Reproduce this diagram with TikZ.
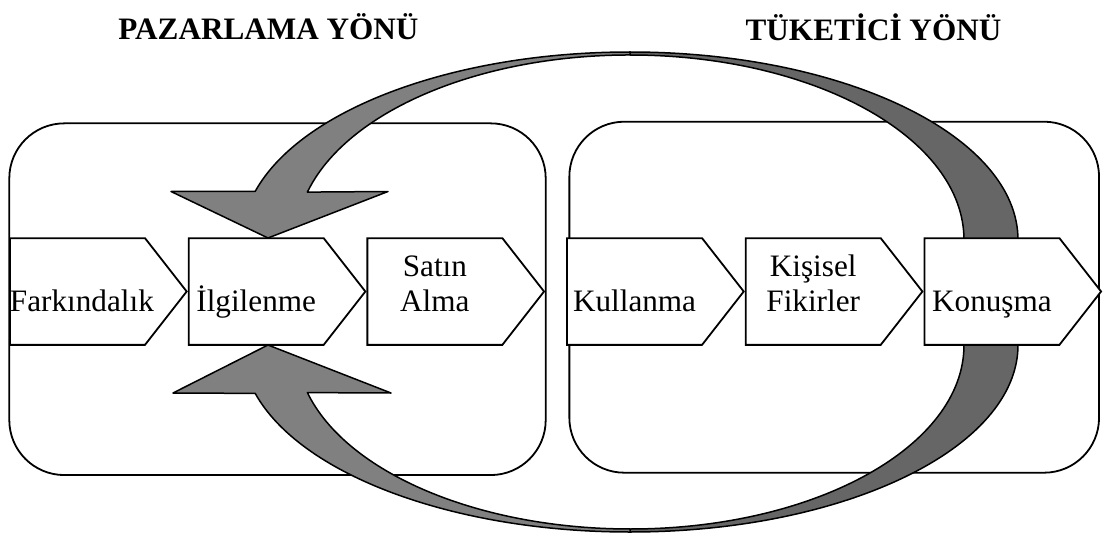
\documentclass[tikz,border=0pt]{standalone}
\usepackage{fontspec}
\setmainfont{Liberation Serif}
\usetikzlibrary{positioning}
\usetikzlibrary{shapes.symbols}

\begin{document}
\begin{tikzpicture}[x=0.5pt,y=-0.5pt]
  \tikzset{Panel/.style={rectangle, draw, line width=0.9pt, rounded corners=27.5pt}};
  \tikzset{Stage/.style={signal, signal to=east, signal pointer angle=104, draw, fill=white, line width=0.9pt, text width=67.5pt, minimum height=53.35pt, inner sep=0pt, outer sep=0pt, align=center, text height=21.5pt, text depth=2pt, font=\fontsize{15.6}{17.5}\selectfont}};
  \tikzset{Stage2/.style={Stage, text height=11pt, text depth=26.5pt}};
  \tikzset{Heading/.style={font=\fontsize{15.6}{17.5}\selectfont\bfseries}};
  \tikzset{Front/.style={draw, fill=black!50, line width=0.75pt, line join=round}};
  \tikzset{Back/.style={draw, fill=black!60, line width=0.75pt, line join=round}};
  \useasboundingbox (0,0) rectangle (1108,540);
  \node[Heading] (h1) at (268.5,27) {PAZARLAMA YÖNÜ};
  \node[Heading] (h2) at (873.5,27) {TÜKETİCİ YÖNÜ};
  \node[Panel, minimum width=268.2pt, minimum height=175.85pt] (p1) at (277.5,299.2) {};
  \node[Panel, minimum width=264.85pt, minimum height=175.5pt] (p2) at (834.2,297.2) {};
  % upper arrow
  \draw[Back] (1018,240) arc[start angle=0, end angle=-90, x radius=388, y radius=188] -- (630,55) arc[start angle=-90, end angle=0, x radius=334, y radius=185] -- cycle;
  \draw[Front] (630,52) arc[start angle=-90, end angle=-165, x radius=388, y radius=188] -- (171,191.5) -- (268,238) -- (388,191.5) -- (307.4,192.1) arc[start angle=-165, end angle=-90, x radius=334, y radius=185] -- cycle;
  % lower arrow
  \draw[Back] (1018,345) arc[start angle=0, end angle=90, x radius=388, y radius=187] -- (630,529) arc[start angle=90, end angle=0, x radius=334, y radius=184] -- cycle;
  \draw[Front] (630,532) arc[start angle=90, end angle=165, x radius=388, y radius=187] -- (173,393) -- (268,345) -- (391,393) -- (307.4,392.6) arc[start angle=165, end angle=90, x radius=334, y radius=184] -- cycle;
  \node[Stage, anchor=west] (fark) at (10,291.5) {Farkındalık};
  \node[Stage, right=1pt of fark] (ilgi) {İlgilenme};
  \node[Stage2, right=1pt of ilgi] (satin) {Satın\\Alma};
  \node[Stage, right=11.5pt of satin] (kull) {Kullanma};
  \node[Stage2, right=1pt of kull] (kisi) {Kişisel\\Fikirler};
  \node[Stage, right=1pt of kisi] (konu) {Konuşma};
\end{tikzpicture}
\end{document}
